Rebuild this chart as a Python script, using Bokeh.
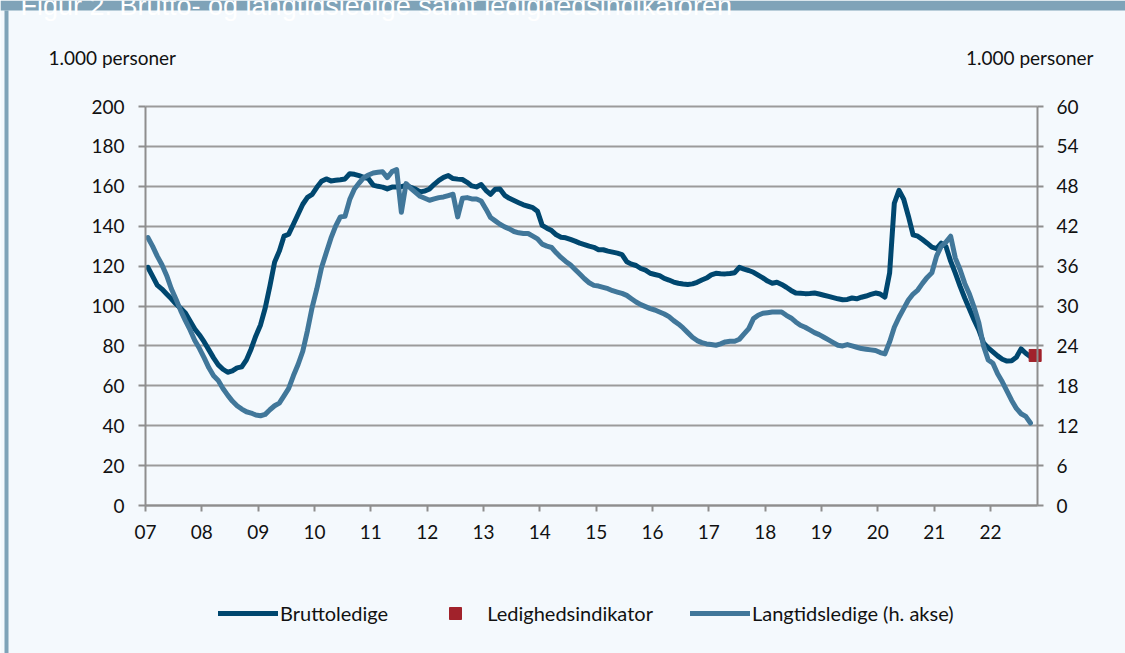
from bokeh.plotting import figure
from bokeh.models import (Range1d, LinearAxis, FixedTicker, Legend, LegendItem,
                          Label, BoxAnnotation, Grid)
from bokeh.embed import file_html
from bokeh.resources import INLINE

# Monthly data, January 2007 onwards (1.000 personer)
start_year = 2007
bruttoledige = [
    119.4, 115, 110.5, 108.5, 106, 103.6, 101, 98.8, 96.5, 92.5, 88.5, 85.5,
    82, 78, 74, 70.5, 68.3, 66.8, 67.5, 69, 69.5, 73, 78.5, 85,
    90.5, 99, 110, 122, 127.5, 135, 136, 141, 146, 151, 154.5, 156,
    159.5, 162.5, 163.7, 162.7, 163, 163.3, 163.7, 166.3, 166, 165.3, 164.5, 163.8,
    160.6, 160, 159.6, 158.7, 159.6, 159.6, 159.8, 160.4, 159.5, 158.6, 157.2, 157.6,
    158.7, 161, 163, 164.5, 165.4, 163.9, 163.6, 163.4, 162, 160.2, 159.7, 160.9,
    158, 156, 158.5, 158.6, 155.5, 154, 152.9, 151.8, 150.7, 150, 149.3, 147.5,
    140.4, 139, 137.8, 135.7, 134.5, 134.2, 133.4, 132.5, 131.5, 130.8, 130, 129.4,
    128.2, 128.2, 127.5, 127, 126.5, 125.8, 122.2, 121, 120.3, 118.8, 118, 116.4,
    115.8, 115.2, 113.8, 113, 112, 111.4, 111, 110.8, 111.1, 111.9, 113, 114,
    115.6, 116.4, 116.2, 116.1, 116.3, 116.7, 119.4, 118.5, 117.8, 116.9, 115.5, 114.1,
    112.5, 111.4, 111.9, 110.8, 109.4, 107.8, 106.5, 106.4, 106.2, 106.3, 106.5, 106,
    105.4, 104.8, 104.2, 103.6, 103.1, 103.3, 104, 103.6, 104.4, 105, 105.8, 106.5,
    106, 104.5, 116.5, 151.5, 158, 153.5, 145, 135.7, 135, 133.3, 131.5, 129.5,
    128.8, 131.5, 129.8, 122.5, 116.5, 110, 104, 98.5, 93, 88, 81.5, 79,
    77, 75, 73.3, 72.4, 72.6, 74.3, 78.5, 76.3, 74.6,
]
langtidsledige = [
    40.3, 39, 37.5, 36.2, 34.6, 32.6, 31, 29.3, 27.8, 26.4, 24.8, 23.6,
    22.2, 20.7, 19.5, 18.8, 17.6, 16.6, 15.7, 15, 14.5, 14.1, 13.9, 13.6,
    13.5, 13.7, 14.4, 15, 15.4, 16.5, 17.6, 19.5, 21.2, 23.2, 26.3, 29.8,
    32.6, 35.8, 38, 40.2, 42, 43.4, 43.5, 46, 47.6, 48.5, 49.3, 49.7,
    50, 50.1, 50.2, 49.3, 50.2, 50.5, 44.1, 48.4, 47.7, 47.1, 46.5, 46.2,
    45.9, 46.1, 46.3, 46.4, 46.6, 46.8, 43.4, 46.2, 46.3, 46.1, 46.1, 45.8,
    44.6, 43.3, 42.8, 42.3, 41.9, 41.6, 41.2, 41, 40.9, 40.9, 40.5, 40.1,
    39.3, 39, 38.8, 38, 37.3, 36.7, 36.2, 35.5, 34.8, 34.1, 33.5, 33.1,
    33, 32.8, 32.6, 32.3, 32.1, 31.9, 31.6, 31.1, 30.6, 30.2, 29.9, 29.6,
    29.4, 29.1, 28.8, 28.4, 27.8, 27.3, 26.7, 26, 25.3, 24.8, 24.5, 24.3,
    24.2, 24.1, 24.3, 24.6, 24.7, 24.7, 25, 25.8, 26.6, 28.1, 28.6, 28.9,
    29, 29.1, 29.1, 29.1, 28.6, 28.2, 27.6, 27.1, 26.8, 26.4, 26, 25.7,
    25.3, 24.9, 24.5, 24.1, 24, 24.2, 24, 23.8, 23.6, 23.5, 23.4, 23.3,
    23, 22.8, 24.6, 26.8, 28.3, 29.6, 30.9, 31.8, 32.4, 33.4, 34.3, 35,
    37.5, 39, 39.6, 40.5, 37.2, 35.5, 33.4, 31.8, 29.8, 27.5, 24, 21.9,
    21.4, 19.8, 18.6, 17.2, 15.8, 14.6, 13.8, 13.4, 12.4,
]
indikator_month = (2022, 10)
indikator = [75.2]
last_month = (2022, 10)

left_ticks = list(range(0, 201, 20))
right_ticks = list(range(0, 61, 6))
year_ticks = list(range(2007, 2023))
year_labels = {y: f"{y % 100:02d}" for y in year_ticks}

title_text = "Figur 2. Brutto- og langtidsledige samt ledighedsindikatoren"
unit_text = "1.000 personer"
legend_labels = ["Bruttoledige", "Ledighedsindikator", "Langtidsledige (h. akse)"]

BG = "#f4f9fd"
BAND = "#7fa3b8"
DARK = "#00476f"
LIGHT = "#41779a"
RED = "#a1222b"
GRID = "#9b9b9b"
AXIS = "#8e8e8e"
TXT = "#111111"
FONT = "Lato"

# ---- page geometry (pixels) ----
W, H = 1125, 653
PL, PR, PT, PB = 145, 1037, 106, 505      # plot-area edges on the page

x_end = start_year + ((last_month[0] - start_year) * 12 + last_month[1]) / 12.0
kx = (x_end - start_year) / (PR - PL)
ky = 200.0 / (PB - PT)
RATIO = 60.0 / 200.0


def px_x(px):
    return start_year + (px - PL) * kx


def py_y(py):
    return (PB - py) * ky


def month_x(i):
    return start_year + (i + 0.5) / 12.0


x_b = [month_x(i) for i in range(len(bruttoledige))]
x_l = [month_x(i) for i in range(len(langtidsledige))]
x_ind = [month_x((indikator_month[0] - start_year) * 12 + indikator_month[1] - 1)]

p = figure(width=W, height=H, output_backend="svg", toolbar_location=None,
           x_range=Range1d(px_x(0), px_x(W)), y_range=Range1d(py_y(H), py_y(0)),
           min_border=0, background_fill_color=BG, border_fill_color=BG,
           outline_line_color=None)
p.extra_y_ranges = {"r": Range1d(py_y(H) * RATIO, py_y(0) * RATIO)}

# decorative frame: top band and left strip
p.add_layout(BoxAnnotation(left=px_x(0), right=px_x(W), bottom=py_y(10),
                           top=py_y(0), fill_color=BAND, fill_alpha=1,
                           line_color=None))
p.add_layout(BoxAnnotation(left=px_x(4), right=px_x(8), bottom=py_y(H),
                           top=py_y(10), fill_color=BAND, fill_alpha=1,
                           line_color=None))
p.add_layout(Label(x=px_x(20), y=py_y(5), text=title_text, text_color="white",
                   text_font="Liberation Sans", text_font_size="27px",
                   text_baseline="alphabetic"))

# grid lines limited to the plot area
grid_ok = "cross_bounds" in Grid.properties()
p.xgrid.visible = False
if grid_ok:
    p.ygrid.ticker = FixedTicker(ticks=left_ticks)
    p.ygrid.cross_bounds = (start_year, x_end)
    p.ygrid.grid_line_color = GRID
    p.ygrid.grid_line_width = 2
else:
    p.ygrid.visible = False
    p.segment(x0=[start_year] * len(left_ticks), x1=[x_end] * len(left_ticks),
              y0=left_ticks, y1=left_ticks, line_color=GRID, line_width=2)

r_b = p.line(x_b, bruttoledige, line_color=DARK, line_width=5,
             line_join="round", line_cap="round")
r_l = p.line(x_l, langtidsledige, y_range_name="r", line_color=LIGHT,
             line_width=5, line_join="round", line_cap="round")
r_i = p.scatter(x_ind, indikator, marker="square", size=12, fill_color=RED,
                line_color=RED)


def style_axis(ax, tick_out, standoff):
    ax.axis_line_color = AXIS
    ax.axis_line_width = 2
    ax.major_tick_line_color = AXIS
    ax.major_tick_line_width = 2
    ax.major_tick_in = 0
    ax.major_tick_out = tick_out
    ax.minor_tick_line_color = None
    ax.major_label_standoff = standoff
    ax.major_label_text_font = FONT
    ax.major_label_text_font_size = "19px"
    ax.major_label_text_color = TXT


xa = p.xaxis[0]
xa.ticker = FixedTicker(ticks=year_ticks)
xa.major_label_overrides = year_labels
xa.fixed_location = 0
xa.bounds = (start_year, x_end)
style_axis(xa, 6, 13)

ya = p.yaxis[0]
ya.ticker = FixedTicker(ticks=left_ticks)
ya.fixed_location = start_year
ya.bounds = (0, 200)
style_axis(ya, 7, 14)

yr = LinearAxis(y_range_name="r", ticker=FixedTicker(ticks=right_ticks),
                fixed_location=x_end, bounds=(0, 60))
style_axis(yr, 6, 13)
p.add_layout(yr, "right")

# unit captions
p.add_layout(Label(x=px_x(48), y=py_y(57), text=unit_text, text_align="left",
                   text_baseline="middle", text_font=FONT,
                   text_font_size="19px", text_color=TXT))
p.add_layout(Label(x=px_x(1093), y=py_y(57), text=unit_text,
                   text_align="right", text_baseline="middle",
                   text_font=FONT, text_font_size="19px", text_color=TXT))

legend = Legend(items=[
    LegendItem(label=legend_labels[0], renderers=[r_b]),
    LegendItem(label=legend_labels[1], renderers=[r_i]),
    LegendItem(label=legend_labels[2], renderers=[r_l]),
], location=(218, H - 628), orientation="horizontal", padding=0, margin=0,
    spacing=37, label_standoff=2, glyph_width=60, glyph_height=30,
    label_text_font=FONT, label_text_font_size="20px", label_text_color=TXT,
    background_fill_alpha=0, border_line_color=None)
p.add_layout(legend, "center")

open("out.html", "w").write(file_html(p, INLINE))
